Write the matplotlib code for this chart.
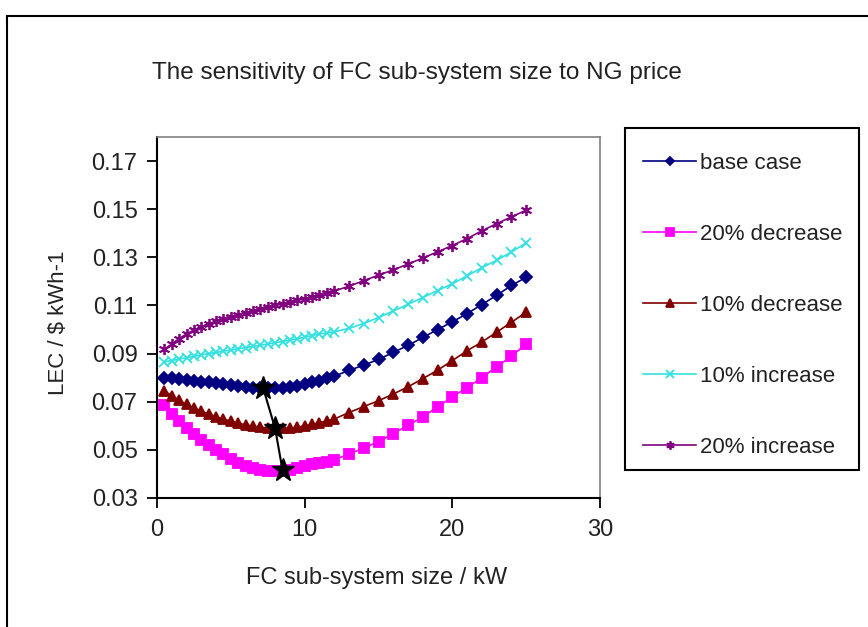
import matplotlib
matplotlib.use("Agg")
import matplotlib.pyplot as plt
from matplotlib.lines import Line2D
from matplotlib.patches import Rectangle

plt.rcParams["font.family"] = ["Liberation Sans", "DejaVu Sans"]

# FC sub-system size (kW)
size_kw = [0.5, 1, 1.5, 2, 2.5, 3, 3.5, 4, 4.5, 5, 5.5, 6, 6.5, 7, 7.5, 8, 8.5, 9,
           9.5, 10, 10.5, 11, 11.5, 12, 13, 14, 15, 16, 17, 18, 19, 20, 21, 22,
           23, 24, 25]

# LEC ($/kWh) for each NG price scenario
lec_base = [0.0800, 0.0798, 0.0795, 0.0792, 0.0788, 0.0784, 0.0780, 0.0776, 0.0772,
            0.0768, 0.0765, 0.0762, 0.0759, 0.0757, 0.0756, 0.0756, 0.0757, 0.0762,
            0.0767, 0.0773, 0.0780, 0.0788, 0.0797, 0.0806, 0.0830, 0.0852, 0.0876,
            0.0905, 0.0934, 0.0967, 0.1000, 0.1032, 0.1066, 0.1104, 0.1142, 0.1183,
            0.1217]
lec_dec20 = [0.0685, 0.0650, 0.0620, 0.0592, 0.0566, 0.0541, 0.0519, 0.0499, 0.0481,
             0.0462, 0.0447, 0.0435, 0.0425, 0.0418, 0.0413, 0.0412, 0.0413, 0.0418,
             0.0426, 0.0434, 0.0440, 0.0446, 0.0451, 0.0459, 0.0482, 0.0508, 0.0534,
             0.0568, 0.0602, 0.0637, 0.0678, 0.0720, 0.0759, 0.0800, 0.0845, 0.0888,
             0.0941]
lec_dec10 = [0.0745, 0.0725, 0.0706, 0.0689, 0.0674, 0.0661, 0.0649, 0.0638, 0.0628,
             0.0619, 0.0611, 0.0604, 0.0598, 0.0594, 0.0591, 0.0589, 0.0589, 0.0590,
             0.0594, 0.0600, 0.0606, 0.0613, 0.0620, 0.0628, 0.0655, 0.0680, 0.0704,
             0.0732, 0.0762, 0.0796, 0.0831, 0.0871, 0.0912, 0.0948, 0.0989, 0.1030,
             0.1072]
lec_inc10 = [0.0866, 0.0871, 0.0877, 0.0883, 0.0889, 0.0895, 0.0900, 0.0905, 0.0910,
             0.0915, 0.0920, 0.0925, 0.0930, 0.0935, 0.0940, 0.0945, 0.0950, 0.0956,
             0.0962, 0.0968, 0.0975, 0.0982, 0.0986, 0.0990, 0.1005, 0.1025, 0.1050,
             0.1077, 0.1105, 0.1133, 0.1162, 0.1190, 0.1223, 0.1257, 0.1288, 0.1322,
             0.1360]
lec_inc20 = [0.0918, 0.0940, 0.0962, 0.0982, 0.0998, 0.1011, 0.1023, 0.1034, 0.1045,
             0.1054, 0.1062, 0.1070, 0.1078, 0.1086, 0.1093, 0.1100, 0.1107, 0.1114,
             0.1121, 0.1128, 0.1136, 0.1144, 0.1152, 0.1160, 0.1180, 0.1203, 0.1226,
             0.1248, 0.1272, 0.1297, 0.1323, 0.1349, 0.1378, 0.1410, 0.1440, 0.1468,
             0.1496]

# optimum (minimum LEC) points: base case, 10% decrease, 20% decrease
opt_size = [7.2, 8.0, 8.5]
opt_lec = [0.0755, 0.0589, 0.0416]

series = [
    ("base case", lec_base, "#000080", "D", 6),
    ("20% decrease", lec_dec20, "#FF00FF", "s", 7),
    ("10% decrease", lec_dec10, "#800000", "^", 7.5),
    ("10% increase", lec_inc10, "#33E0E0", "x", 7),
    ("20% increase", lec_inc20, "#800080", (6, 2, 0), 8),
]

W, H = 868, 627
fig = plt.figure(figsize=(W / 100, H / 100), dpi=100)


def fx(px):
    return px / W


def fy(py):
    return 1 - py / H


ax = fig.add_axes([fx(157), fy(498), fx(600) - fx(157), fy(137) - fy(498)])

handles = []
for label, vals, color, marker, ms in series:
    h, = ax.plot(size_kw, vals, color=color, marker=marker, ms=ms, lw=1.2,
                 mec=color, mfc=color, mew=1.3, label=label)
    handles.append(h)

ax.plot(opt_size, opt_lec, color="black", lw=1.5, marker="*", ms=17, zorder=5)

ax.set_xlim(0, 30)
ax.set_ylim(0.03, 0.18)
ax.set_xticks([0, 10, 20, 30])
ax.set_yticks([0.03, 0.05, 0.07, 0.09, 0.11, 0.13, 0.15, 0.17])
ax.set_yticklabels([f"{v:.2f}" for v in ax.get_yticks()])
ax.tick_params(direction="out", length=7, width=1.3, labelsize=17, colors="black",
               labelcolor="#222222")
ax.tick_params(axis="y", pad=7)
ax.tick_params(axis="x", pad=8)
for side in ("left", "bottom"):
    ax.spines[side].set_color("black")
    ax.spines[side].set_linewidth(1.5)
for side in ("top", "right"):
    ax.spines[side].set_color("#808080")
    ax.spines[side].set_linewidth(1.2)

# chart titles
fig.text(fx(417), fy(73), "The sensitivity of FC sub-system size to NG price",
         ha="center", va="center", fontsize=17.5, color="#222222")
fig.text(fx(377), fy(578), "FC sub-system size / kW", ha="center", va="center",
         fontsize=17, color="#222222")
fig.text(fx(59), fy(323), "LEC / $ kWh-1", ha="center", va="center",
         rotation=90, fontsize=16, color="#222222")

# legend with its own box
leg = ax.legend(handles=handles, loc="upper left",
                bbox_to_anchor=(fx(643), fy(153)), bbox_transform=fig.transFigure,
                frameon=False, fontsize=16, borderpad=0, borderaxespad=0,
                handlelength=2.4, handletextpad=0.15, labelspacing=2.25,
                numpoints=1, markerscale=0.75, labelcolor="#222222")
fig.add_artist(Rectangle((fx(625), fy(470)), fx(859) - fx(625), fy(128) - fy(470),
                         transform=fig.transFigure, fill=False, ec="black", lw=1.5))

# outer chart frame (left and top edges)
fig.add_artist(Line2D([fx(7), fx(7)], [fy(16), 0], transform=fig.transFigure,
                      color="black", lw=1.5))
fig.add_artist(Line2D([fx(7), 1], [fy(16), fy(16)], transform=fig.transFigure,
                      color="black", lw=1.5))

fig.savefig("out.png", dpi=100)
